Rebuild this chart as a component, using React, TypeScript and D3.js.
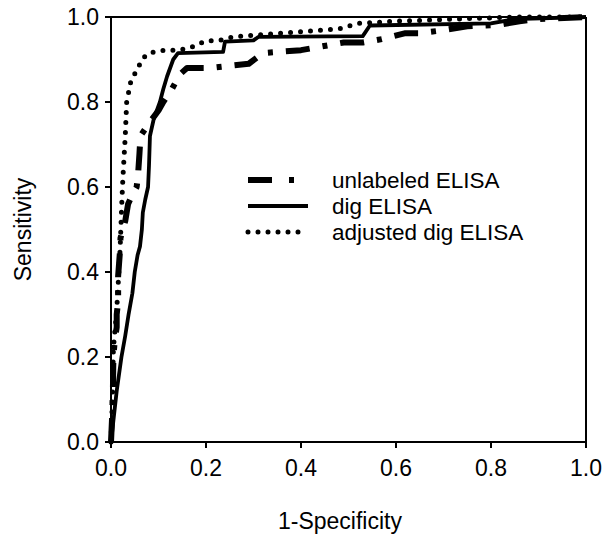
import React from "react";
import * as d3 from "d3";

const xTicks = [0, 0.2, 0.4, 0.6, 0.8, 1.0];
const yTicks = [0, 0.2, 0.4, 0.6, 0.8, 1.0];

const seriesNames = ["unlabeled ELISA", "dig ELISA", "adjusted dig ELISA"];

const unlabeledFpr = [0, 0.002, 0.004, 0.005, 0.008, 0.012, 0.012, 0.015, 0.015, 0.017, 0.019, 0.02, 0.03, 0.036, 0.044, 0.054, 0.057, 0.06, 0.062, 0.08, 0.1, 0.11, 0.128, 0.145, 0.16, 0.21, 0.25, 0.29, 0.32, 0.4, 0.49, 0.53, 0.57, 0.62, 0.65, 0.7, 0.75, 0.82, 0.86, 0.9, 1];
const unlabeledSens = [0, 0.05, 0.12, 0.2, 0.24, 0.27, 0.3, 0.33, 0.39, 0.42, 0.45, 0.48, 0.52, 0.56, 0.58, 0.6, 0.63, 0.68, 0.72, 0.75, 0.78, 0.8, 0.83, 0.865, 0.88, 0.88, 0.885, 0.89, 0.915, 0.922, 0.94, 0.94, 0.948, 0.962, 0.962, 0.969, 0.978, 0.982, 0.99, 0.995, 1];

const digFpr = [0, 0.005, 0.012, 0.022, 0.03, 0.037, 0.045, 0.05, 0.056, 0.061, 0.065, 0.067, 0.072, 0.078, 0.08, 0.082, 0.09, 0.103, 0.11, 0.118, 0.131, 0.141, 0.236, 0.24, 0.3, 0.31, 0.53, 0.545, 0.8, 0.85, 1];
const digSens = [0, 0.05, 0.12, 0.2, 0.25, 0.3, 0.35, 0.4, 0.44, 0.46, 0.5, 0.54, 0.57, 0.6, 0.65, 0.72, 0.76, 0.8, 0.83, 0.86, 0.9, 0.915, 0.918, 0.942, 0.945, 0.953, 0.955, 0.98, 0.985, 0.995, 1];

const adjustedFpr = [0, 0.003, 0.005, 0.012, 0.019, 0.023, 0.025, 0.03, 0.033, 0.042, 0.057, 0.065, 0.078, 0.114, 0.139, 0.166, 0.2, 0.225, 0.257, 0.31, 0.36, 0.42, 0.48, 0.52, 0.6, 0.85, 1];
const adjustedSens = [0, 0.1, 0.22, 0.31, 0.45, 0.57, 0.62, 0.72, 0.8, 0.85, 0.88, 0.9, 0.915, 0.922, 0.922, 0.927, 0.944, 0.944, 0.953, 0.958, 0.962, 0.967, 0.972, 0.985, 0.99, 1, 1];

const W = 615;
const H = 539;
const left = 111;
const right = 586;
const top = 17;
const bottom = 442;

const styles = [
  { width: 6, dash: "24 13 5 13", cap: "butt" },
  { width: 3.8, dash: "none", cap: "butt" },
  { width: 5, dash: "0 10", cap: "round" },
];

export default function App() {
  const x = d3.scaleLinear().domain([0, 1]).range([left, right]);
  const y = d3.scaleLinear().domain([0, 1]).range([bottom, top]);
  const line = d3
    .line<[number, number]>()
    .x((d) => x(d[0]))
    .y((d) => y(d[1]));

  const series = [
    d3.zip(unlabeledFpr, unlabeledSens) as [number, number][],
    d3.zip(digFpr, digSens) as [number, number][],
    d3.zip(adjustedFpr, adjustedSens) as [number, number][],
  ];

  const font = "Liberation Sans, Arial, sans-serif";
  const legendY = [180, 206, 232];

  return (
    <svg
      width={W}
      height={H}
      style={{ position: "absolute", left: 0, top: 0, background: "#fff" }}
      fontFamily={font}
    >
      <rect x={0} y={0} width={W} height={H} fill="#fff" />
      {series.map((s, i) => (
        <path
          key={i}
          d={line(s) || ""}
          fill="none"
          stroke="#000"
          strokeWidth={styles[i].width}
          strokeDasharray={styles[i].dash}
          strokeLinecap={styles[i].cap as any}
          strokeLinejoin="round"
        />
      ))}
      {/* axes */}
      <line x1={left} x2={left} y1={top} y2={bottom + 6} stroke="#000" strokeWidth={2} />
      <line x1={left} x2={right} y1={bottom} y2={bottom} stroke="#000" strokeWidth={2} />
      <line x1={left - 6} x2={right} y1={top} y2={top} stroke="#000" strokeWidth={2} />
      <line x1={right} x2={right} y1={top} y2={bottom + 6} stroke="#000" strokeWidth={2} />
      {xTicks.map((t) => (
        <g key={"x" + t}>
          <line x1={x(t)} x2={x(t)} y1={bottom} y2={bottom + 6} stroke="#000" strokeWidth={2} />
          <text x={x(t)} y={476} textAnchor="middle" fontSize={23}>
            {d3.format(".1f")(t)}
          </text>
        </g>
      ))}
      {yTicks.map((t) => (
        <g key={"y" + t}>
          <line x1={left - 6} x2={left} y1={y(t)} y2={y(t)} stroke="#000" strokeWidth={2} />
          <text x={99} y={y(t)} dy="0.36em" textAnchor="end" fontSize={23}>
            {d3.format(".1f")(t)}
          </text>
        </g>
      ))}
      <text x={340} y={529} textAnchor="middle" fontSize={23}>
        1-Specificity
      </text>
      <text
        transform={`translate(31, ${(top + bottom) / 2}) rotate(-90)`}
        textAnchor="middle"
        fontSize={23}
      >
        Sensitivity
      </text>
      {/* legend */}
      {seriesNames.map((name, i) => (
        <g key={name}>
          <line
            x1={248}
            x2={308}
            y1={legendY[i]}
            y2={legendY[i]}
            stroke="#000"
            strokeWidth={styles[i].width}
            strokeDasharray={i === 0 ? "24 17 5 100" : styles[i].dash}
            strokeLinecap={styles[i].cap as any}
          />
          <text x={332} y={legendY[i]} dy="0.36em" fontSize={22.5}>
            {name}
          </text>
        </g>
      ))}
    </svg>
  );
}
